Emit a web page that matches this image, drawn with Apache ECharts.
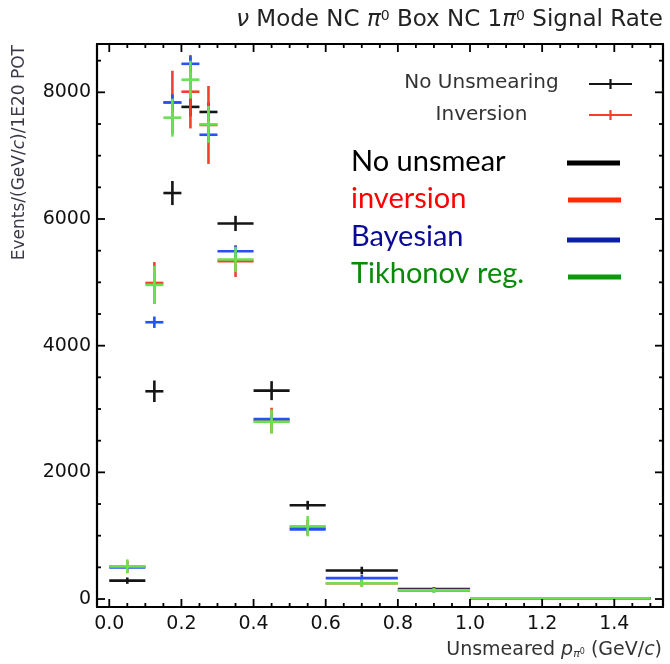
<!DOCTYPE html>
<html>
<head>
<meta charset="utf-8">
<script src="https://cdn.jsdelivr.net/npm/echarts@6/dist/echarts.min.js"></script>
<style>html,body{margin:0;padding:0;background:#fff;}#c{width:670px;height:664px;}</style>
</head>
<body>
<div id="c"></div>
<script>
// ---- data ----
const binLow  = [0.0, 0.10, 0.15, 0.20, 0.25, 0.30, 0.40, 0.50, 0.60, 0.80, 1.00];
const binHigh = [0.10, 0.15, 0.20, 0.25, 0.30, 0.40, 0.50, 0.60, 0.80, 1.00, 1.50];

const noUnsmearVals = [290, 3280, 6410, 7770, 7690, 5930, 3290, 1480, 450, 158, 10];
const noUnsmearErr  = [50, 170, 190, 150, 150, 120, 150, 70, 60, 30, 5];

const inversionVals = [510, 4990, 7840, 8010, 7485, 5335, 2820, 1130, 250, 140, 10];
const inversionErr  = [90, 330, 500, 580, 615, 250, 200, 120, 60, 30, 10];

const bayesianVals  = [500, 4370, 7840, 8450, 7330, 5490, 2840, 1100, 330, 140, 10];
const bayesianErr   = [40, 90, 130, 120, 80, 90, 60, 40, 50, 40, 5];

const tikhonovVals  = [515, 4960, 7600, 8200, 7495, 5360, 2800, 1150, 250, 137, 10];
const tikhonovErr   = [110, 300, 300, 300, 290, 200, 190, 160, 60, 40, 5];

const xMajorTicks = [0, 0.2, 0.4, 0.6, 0.8, 1.0, 1.2, 1.4];
const xMinorTicks = [0.05, 0.1, 0.15, 0.25, 0.3, 0.35, 0.45, 0.5, 0.55, 0.65, 0.7, 0.75, 0.85, 0.9, 0.95, 1.05, 1.1, 1.15, 1.25, 1.3, 1.35, 1.45, 1.5];
const yMajorTicks = [0, 2000, 4000, 6000, 8000];
const yMinorTicks = [500, 1000, 1500, 2500, 3000, 3500, 4500, 5000, 5500, 6500, 7000, 7500, 8500];

// ---- chart ----
const X_MIN = -0.034, X_MAX = 1.535, Y_MIN = -126, Y_MAX = 8763;
const FONT = 'DejaVu Sans';
const C_BLACK = '#151515', C_RED = '#f2402e', C_BLUE = '#2452f5', C_GREEN = '#68e24e';
const MAJOR_LEN = 8, MINOR_LEN = 4;

function rows(lo, hi, v, e) {
  return v.map((val, i) => [lo[i], hi[i], val, e[i]]);
}
function makeRender(color, lw) {
  return function (params, api) {
    const xl = api.value(0), xh = api.value(1), y = api.value(2), e = api.value(3);
    const xc = (xl + xh) / 2;
    const pL = api.coord([xl, y]), pR = api.coord([xh, y]);
    const pT = api.coord([xc, y + e]), pB = api.coord([xc, y - e]);
    return {
      type: 'group',
      children: [
        { type: 'line', shape: { x1: pL[0], y1: pL[1], x2: pR[0], y2: pR[1] }, style: { stroke: color, lineWidth: lw } },
        { type: 'line', shape: { x1: pT[0], y1: pT[1], x2: pB[0], y2: pB[1] }, style: { stroke: color, lineWidth: lw } }
      ]
    };
  };
}
function errSeries(name, color, vals, errs) {
  return {
    name: name, type: 'custom',
    renderItem: makeRender(color, 2.6),
    data: rows(binLow, binHigh, vals, errs),
    encode: { x: [0, 1], y: 2 },
    clip: true, silent: true, z: 3
  };
}

// frame ticks (inside, on all four sides), placed through the axis scales
function xTickRender(params, api) {
  const v = api.value(0), len = api.value(1) ? MAJOR_LEN : MINOR_LEN;
  const b = api.coord([v, Y_MIN]), t = api.coord([v, Y_MAX]);
  const st = { stroke: '#000', lineWidth: 1.8 };
  return { type: 'group', children: [
    { type: 'line', shape: { x1: b[0], y1: b[1], x2: b[0], y2: b[1] - len }, style: st },
    { type: 'line', shape: { x1: t[0], y1: t[1], x2: t[0], y2: t[1] + len }, style: st }
  ] };
}
function yTickRender(params, api) {
  const v = api.value(1), len = api.value(0) ? MAJOR_LEN : MINOR_LEN;
  const l = api.coord([X_MIN, v]), r = api.coord([X_MAX, v]);
  const st = { stroke: '#000', lineWidth: 1.8 };
  return { type: 'group', children: [
    { type: 'line', shape: { x1: l[0], y1: l[1], x2: l[0] + len, y2: l[1] }, style: st },
    { type: 'line', shape: { x1: r[0], y1: r[1], x2: r[0] - len, y2: r[1] }, style: st }
  ] };
}

function ax(isX, pos, labels) {
  return {
    type: 'value', position: pos,
    min: isX ? X_MIN : Y_MIN, max: isX ? X_MAX : Y_MAX,
    axisLine: { show: true, onZero: false, lineStyle: { color: '#000', width: 2.2 } },
    splitLine: { show: false },
    axisTick: { show: false },
    axisLabel: labels ? {
      show: true,
      customValues: isX ? xMajorTicks : yMajorTicks,
      formatter: isX ? (v => v.toFixed(1)) : (v => String(v)),
      fontFamily: FONT, fontSize: 19, color: '#111', margin: isX ? 8 : 6
    } : { show: false }
  };
}

const chart = echarts.init(document.getElementById('c'));
chart.setOption({
  animation: false,
  backgroundColor: '#fff',
  title: {
    text: '{i|ν} Mode NC {i|π}{s|0} Box NC 1{i|π}{s|0} Signal Rate',
    right: 2, top: 4,
    textStyle: {
      fontFamily: FONT, fontSize: 23, fontWeight: 'normal', color: '#222',
      rich: {
        i: { fontFamily: FONT, fontSize: 23, fontStyle: 'italic', color: '#222' },
        s: { fontFamily: FONT, fontSize: 14, color: '#222', verticalAlign: 'top', padding: [0, 0, 9, 0] }
      }
    }
  },
  grid: { left: 97, right: 7, top: 44, bottom: 57, show: false },
  xAxis: [ax(true, 'bottom', true), ax(true, 'top', false)],
  yAxis: [ax(false, 'left', true), ax(false, 'right', false)],
  series: [
    { type: 'custom', renderItem: xTickRender, clip: false, silent: true, z: 5,
      data: xMajorTicks.map(v => [v, 1]).concat(xMinorTicks.map(v => [v, 0])), encode: { x: 0 } },
    { type: 'custom', renderItem: yTickRender, clip: false, silent: true, z: 5,
      data: yMajorTicks.map(v => [1, v]).concat(yMinorTicks.map(v => [0, v])), encode: { y: 1 } },
    errSeries('No Unsmearing', C_BLACK, noUnsmearVals, noUnsmearErr),
    errSeries('Inversion', C_RED, inversionVals, inversionErr),
    errSeries('Bayesian', C_BLUE, bayesianVals, bayesianErr),
    errSeries('Tikhonov reg.', C_GREEN, tikhonovVals, tikhonovErr)
  ],
  graphic: [
    // axis titles
    { type: 'text', x: 662, y: 650, style: {
        text: 'Unsmeared {i|p}{sub|π}{sup|0} (GeV/{i|c})', align: 'right', verticalAlign: 'middle',
        font: '19px "DejaVu Sans"', fill: '#333',
        rich: {
          i: { fontFamily: FONT, fontSize: 19, fontStyle: 'italic', fill: '#333' },
          sub: { fontFamily: FONT, fontSize: 11, fontStyle: 'italic', fill: '#333', padding: [9, 0, 0, 0] },
          sup: { fontFamily: FONT, fontSize: 8, fill: '#333', padding: [4, 0, 0, 0] }
        } } },
    { type: 'text', x: 20, y: 45, rotation: Math.PI / 2, style: {
        text: 'Events/(GeV/{i|c})/1E20 POT', align: 'right', verticalAlign: 'middle',
        font: '17px "DejaVu Sans"', fill: '#3a3a4a',
        rich: { i: { fontFamily: FONT, fontSize: 17, fontStyle: 'italic', fill: '#3a3a4a' } } } },
    // ROOT legend
    { type: 'text', x: 481.5, y: 83, style: { text: 'No Unsmearing', align: 'center', verticalAlign: 'middle', font: '20px "DejaVu Sans"', fill: '#333' } },
    { type: 'text', x: 481.5, y: 115, style: { text: 'Inversion', align: 'center', verticalAlign: 'middle', font: '20px "DejaVu Sans"', fill: '#333' } },
    { type: 'line', shape: { x1: 589, y1: 84, x2: 632, y2: 84 }, style: { stroke: C_BLACK, lineWidth: 2.2 } },
    { type: 'line', shape: { x1: 610.5, y1: 79, x2: 610.5, y2: 89 }, style: { stroke: C_BLACK, lineWidth: 2.2 } },
    { type: 'line', shape: { x1: 589, y1: 115, x2: 632, y2: 115 }, style: { stroke: C_RED, lineWidth: 2.2 } },
    { type: 'line', shape: { x1: 610.5, y1: 110, x2: 610.5, y2: 120 }, style: { stroke: C_RED, lineWidth: 2.2 } },
    // overlay legend
    { type: 'text', x: 351, y: 162, style: { text: 'No unsmear', align: 'left', verticalAlign: 'middle', font: '29px Lato', fill: '#000' } },
    { type: 'text', x: 351, y: 199, style: { text: 'inversion', align: 'left', verticalAlign: 'middle', font: '29px Lato', fill: '#ff0000' } },
    { type: 'text', x: 351, y: 237, style: { text: 'Bayesian', align: 'left', verticalAlign: 'middle', font: '29px Lato', fill: '#0a0a96' } },
    { type: 'text', x: 351, y: 274, style: { text: 'Tikhonov reg.', align: 'left', verticalAlign: 'middle', font: '29px Lato', fill: '#0a8a0a' } },
    { type: 'line', shape: { x1: 567, y1: 163, x2: 620, y2: 163 }, style: { stroke: '#000', lineWidth: 5 } },
    { type: 'line', shape: { x1: 568, y1: 200, x2: 621, y2: 200 }, style: { stroke: '#ff2a00', lineWidth: 5 } },
    { type: 'line', shape: { x1: 567, y1: 240, x2: 620, y2: 240 }, style: { stroke: '#0a1ea8', lineWidth: 5 } },
    { type: 'line', shape: { x1: 568, y1: 277, x2: 621, y2: 277 }, style: { stroke: '#0a9a0a', lineWidth: 5 } }
  ]
});
</script>
</body>
</html>
